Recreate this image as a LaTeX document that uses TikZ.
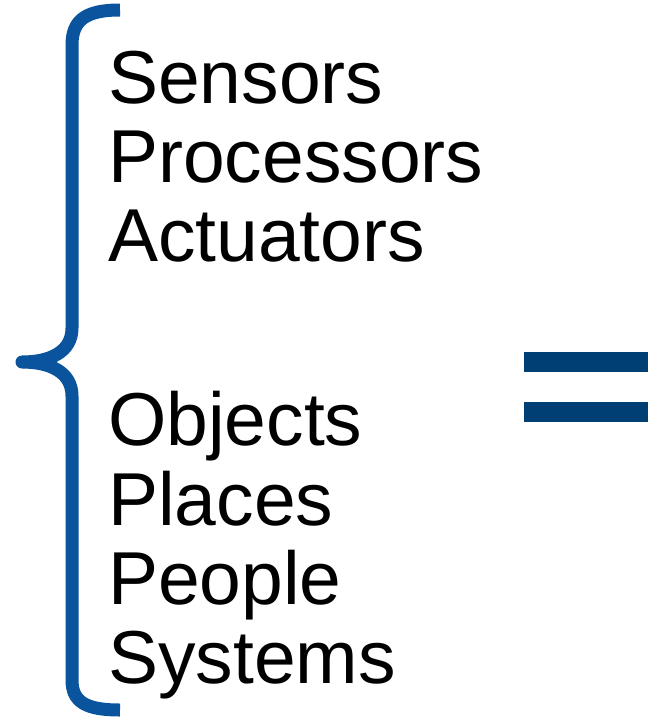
\documentclass[tikz,border=0pt]{standalone}
\usepackage{fontspec}
\setmainfont{Liberation Sans}
\usepackage{xcolor}
\usetikzlibrary{positioning}

\definecolor{braceblue}{HTML}{0A539D}
\definecolor{eqblue}{HTML}{003F73}

\begin{document}
\begin{tikzpicture}[
    x=1pt, y=-1pt,
    item/.style={anchor=base west, inner sep=0pt, font=\fontsize{75}{79}\selectfont},
    bracepath/.style={draw=braceblue, line width=13pt, line join=round},
    bar/.style={fill=eqblue}
]
\useasboundingbox (0,0) rectangle (648,718);

% brace
\draw[bracepath] (120,10) .. controls (86,10) and (72,20) .. (72,45)
    -- (72,328) .. controls (72,352) and (50,362) .. (22,362)
    .. controls (50,362) and (72,372) .. (72,396)
    -- (72,680) .. controls (72,702) and (86,710) .. (120,710);

\node[item] (sensors) at (108,103) {Sensors};
\node[item] (processors) at (108,182) {Processors};
\node[item] (actuators) at (108,261) {Actuators};

\node[item] (objects) at (108,445) {Objects};
\node[item] (places) at (108,525) {Places};
\node[item] (people) at (108,604) {People};
\node[item] (systems) at (108,683) {Systems};

% equals sign
\fill[bar] (524,352) rectangle (648,372);
\fill[bar] (524,402) rectangle (648,422);

\end{tikzpicture}
\end{document}
